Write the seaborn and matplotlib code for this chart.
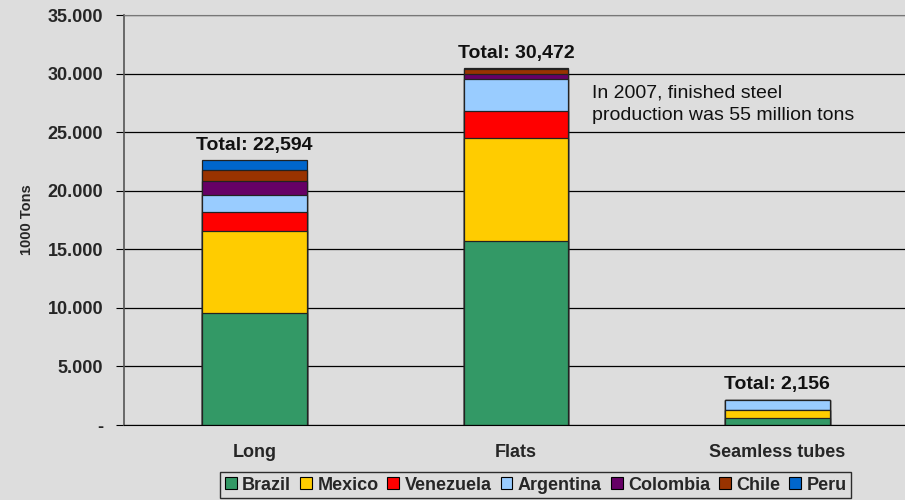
import numpy as np
import pandas as pd
import matplotlib
matplotlib.use('Agg')
import matplotlib.pyplot as plt
import seaborn as sns
from matplotlib.patches import Patch
from matplotlib.ticker import FixedLocator

# Finished steel production by product type (1000 tons)
categories = ['Long', 'Flats', 'Seamless tubes']
countries = ['Brazil', 'Mexico', 'Venezuela', 'Argentina', 'Colombia', 'Chile', 'Peru']
brazil = [9600, 15700, 600]
mexico = [7000, 8800, 700]
venezuela = [1550, 2300, 0]
argentina = [1450, 2700, 856]
colombia = [1200, 450, 0]
chile = [1000, 450, 0]
peru = [794, 72, 0]
totals = [22594, 30472, 2156]
colors = ['#339966', '#FFCC00', '#FF0000', '#99CCFF', '#660066', '#993300', '#0066CC']

bg = '#DDDDDD'
sns.set_style('white')
plt.rcParams['font.family'] = ['Liberation Sans', 'DejaVu Sans']

series = [brazil, mexico, venezuela, argentina, colombia, chile, peru]
cum = np.cumsum(np.array(series), axis=0)

fig = plt.figure(figsize=(9.05, 5.0), dpi=100, facecolor=bg)
ax = fig.add_axes([124 / 905, 75 / 500, 784 / 905, 410 / 500])
ax.set_facecolor(bg)

# gridlines behind bars
ax.set_axisbelow(True)
ax.yaxis.grid(True, color='black', linewidth=0.9)

# stacked bars: draw cumulative heights from the top down
for i in range(len(countries) - 1, -1, -1):
    df = pd.DataFrame({'cat': categories, 'val': cum[i]})
    sns.barplot(data=df, x='cat', y='val', order=categories, color=colors[i],
                width=0.4, edgecolor='#222222', linewidth=0.9, saturation=1,
                ax=ax)

for x, t in enumerate(totals):
    ax.text(x, t + 550, f'Total: {t:,}', ha='center', va='bottom',
            fontsize=14, fontweight='bold', color='#111111')

ax.text(1.29, 29100, 'In 2007, finished steel\nproduction was 55 million tons',
        ha='left', va='top', fontsize=14, linespacing=1.45, color='#111111')

ax.set_ylim(0, 35000)
ax.set_xlim(-0.5, 2.5)
yt = np.arange(0, 35001, 5000)
ax.set_yticks(yt)
ax.set_yticklabels(['-'] + [f'{v:,.0f}'.replace(',', '.') for v in yt[1:]],
                   fontsize=13, fontweight='bold')
ax.set_xticks(range(len(categories)))
ax.set_xticklabels(categories, fontsize=13, fontweight='bold')
ax.tick_params(axis='x', length=0, pad=14)
ax.xaxis.set_minor_locator(FixedLocator([0.5, 1.5]))
ax.tick_params(axis='x', which='minor', length=5, direction='out', color='#555555')
ax.tick_params(axis='y', length=6, direction='out', color='black', pad=9, left=True)
ax.set_xlabel('')
ax.set_ylabel('1000 Tons', fontsize=10.5, fontweight='bold', labelpad=10)

for s in ['left', 'top', 'bottom', 'right']:
    ax.spines[s].set_visible(True)
ax.spines['left'].set_color('#555555')
ax.spines['top'].set_color('#777777')
ax.spines['bottom'].set_color('black')
ax.spines['right'].set_color('#777777')
ax.spines['left'].set_linewidth(1.2)

handles = [Patch(facecolor=c, edgecolor='black', linewidth=0.8) for c in colors]
leg = fig.legend(handles, countries, loc='upper center', bbox_to_anchor=(0.592, 0.056),
                 ncol=7, frameon=True, fancybox=False,
                 prop={'weight': 'bold', 'size': 13}, handlelength=0.65,
                 handleheight=0.65, handletextpad=0.3, columnspacing=0.5,
                 borderpad=0.25, borderaxespad=0)
leg.get_frame().set_edgecolor('black')
leg.get_frame().set_facecolor(bg)
leg.get_frame().set_linewidth(1.0)

fig.savefig('out.png', dpi=100, facecolor=bg)
